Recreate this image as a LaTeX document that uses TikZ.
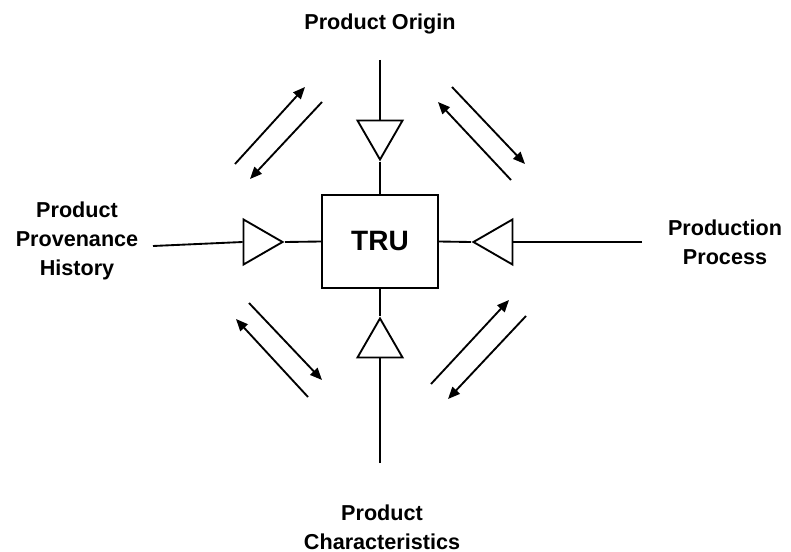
\documentclass[tikz,border=0pt]{standalone}
\usepackage{fontspec}
\setmainfont{Liberation Sans}
\usetikzlibrary{shapes.geometric,arrows.meta}

\begin{document}
\begin{tikzpicture}[x=0.75pt, y=-0.75pt, line width=1.4pt,
  every node/.style={font=\bfseries\fontsize{16.2}{21.5}\selectfont, align=center},
  tri/.style={draw, isosceles triangle, isosceles triangle stretches, minimum width=33.75pt, minimum height=29.25pt, inner sep=0pt},
  flow/.style={-{Triangle[length=9pt,width=7.5pt]}}]
\useasboundingbox (0,0) rectangle (791,552);
\node[draw, minimum width=87pt, minimum height=69.75pt, font=\bfseries\fontsize{21}{25}\selectfont] (TRU) at (380,241.5) {TRU};
\node[tri, shape border rotate=270, anchor=apex] (TOrigin) at (380,162) {};
\node[tri, shape border rotate=0, anchor=apex] (TProv) at (285,242) {};
\node[tri, shape border rotate=180, anchor=apex] (TProc) at (471,242) {};
\node[tri, shape border rotate=90, anchor=apex] (TChar) at (380,316) {};
\node (Origin) at (380,24) {Product Origin};
\node (Prov) at (77,241) {Product\\Provenance\\History};
\node (Proc) at (725,242) {Production\\Process};
\node (Char) at (382,527) {Product\\Characteristics};
\coordinate (OriginEnd) at (380,60);
\coordinate (ProvEnd) at (153,246);
\coordinate (ProcEnd) at (642,242);
\coordinate (CharEnd) at (380,463);
\draw (OriginEnd) -- (TOrigin.lower side);
\draw (TOrigin.apex) -- (TRU.north);
\draw (ProvEnd) -- (TProv.lower side);
\draw (TProv.apex) -- (TRU.west);
\draw (ProcEnd) -- (TProc.lower side);
\draw (TProc.apex) -- (TRU.east);
\draw (CharEnd) -- (TChar.lower side);
\draw (TChar.apex) -- (TRU.south);
% exchange arrows
\coordinate (A1) at (235,164); \coordinate (A2) at (305,87);
\coordinate (A3) at (322,102); \coordinate (A4) at (250,179);
\coordinate (B1) at (452,87); \coordinate (B2) at (525,164);
\coordinate (B3) at (511,180); \coordinate (B4) at (438,102);
\coordinate (C1) at (249,303); \coordinate (C2) at (322,380);
\coordinate (C3) at (308,397); \coordinate (C4) at (236,319);
\coordinate (D1) at (431,384); \coordinate (D2) at (509,300);
\coordinate (D3) at (526,316); \coordinate (D4) at (448,399);
\draw[flow] (A1) -- (A2);
\draw[flow] (A3) -- (A4);
\draw[flow] (B1) -- (B2);
\draw[flow] (B3) -- (B4);
\draw[flow] (C1) -- (C2);
\draw[flow] (C3) -- (C4);
\draw[flow] (D1) -- (D2);
\draw[flow] (D3) -- (D4);
\end{tikzpicture}
\end{document}
